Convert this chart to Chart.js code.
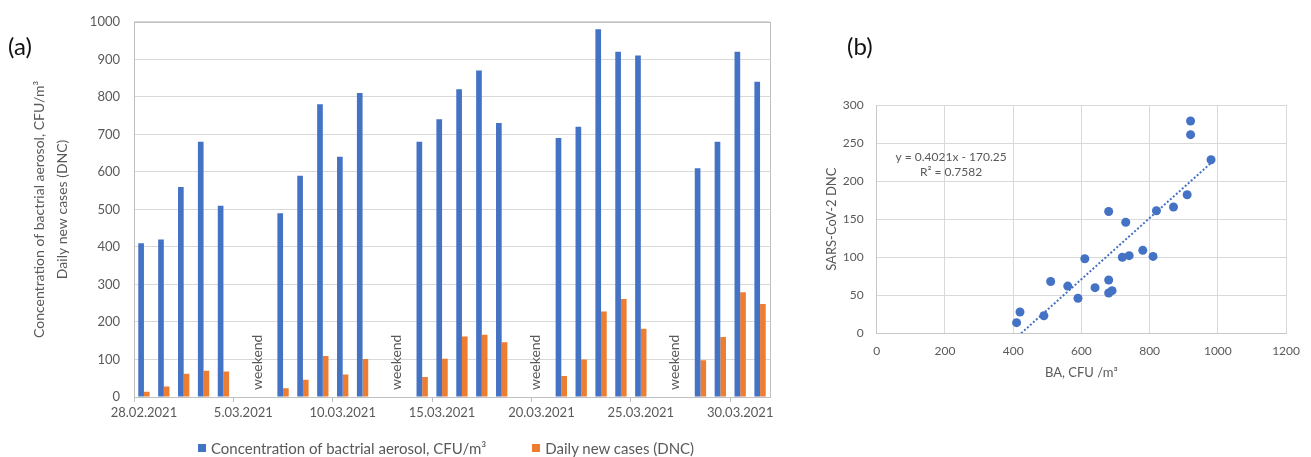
<!DOCTYPE html>
<html>
<head>
<meta charset="utf-8">
<title>Bacterial aerosol and daily new cases</title>
<script src="https://cdn.jsdelivr.net/npm/chart.js@4"></script>
<style>
  body { margin: 0; background: #fff; font-family: Lato, "Open Sans", sans-serif; color: #595959; }
  #page { position: relative; width: 1311px; height: 457px; overflow: hidden; }
  .panel { position: absolute; top: 0; }
  .tag { position: absolute; top: 31px; font-size: 24px; color: #111; }
  #legend { position: absolute; left: 198px; top: 438px; display: flex; gap: 46px; font-size: 15px; line-height: 20px; white-space: nowrap; }
  #legend span { display: flex; align-items: center; }
  #legend i { display: inline-block; width: 8px; height: 8px; margin-right: 5px; }
</style>
</head>
<body>
<div id="page">
  <canvas id="dailyChart" class="panel" style="left:0" width="800" height="457"></canvas>
  <canvas id="scatterChart" class="panel" style="left:800px" width="511" height="457"></canvas>
  <div class="tag" style="left:8px">(a)</div>
  <div class="tag" style="left:847px">(b)</div>
  <div id="legend"></div>
</div>
<script>
const dayLabels = [
  '28.02.2021', '1.03.2021', '2.03.2021', '3.03.2021', '4.03.2021', '5.03.2021', '6.03.2021', '7.03.2021',
  '8.03.2021', '9.03.2021', '10.03.2021', '11.03.2021', '12.03.2021', '13.03.2021', '14.03.2021', '15.03.2021',
  '16.03.2021', '17.03.2021', '18.03.2021', '19.03.2021', '20.03.2021', '21.03.2021', '22.03.2021', '23.03.2021',
  '24.03.2021', '25.03.2021', '26.03.2021', '27.03.2021', '28.03.2021', '29.03.2021', '30.03.2021', '31.03.2021'
];

// CFU/m3, null on the weekend days with no sampling
const aerosol = [
  410, 420, 560, 680, 510, null, null,
  490, 590, 780, 640, 810, null, null,
  680, 740, 820, 870, 730, null, null,
  690, 720, 980, 920, 910, null, null,
  610, 680, 920, 840
];
const newCases = [
  14, 28, 62, 70, 68, null, null,
  23, 46, 109, 60, 101, null, null,
  53, 102, 161, 166, 146, null, null,
  56, 100, 228, 261, 182, null, null,
  98, 160, 279, 248
];

// first empty day of each weekend gap
const weekendGaps = [5, 12, 19, 26];

// pairs used for the regression panel
const scatterBA = [410, 420, 560, 680, 510, 490, 590, 780, 640, 810, 680, 740, 820, 870, 730, 690, 720, 980, 920, 910, 610, 680, 920];
const scatterDNC = [14, 28, 62, 70, 68, 23, 46, 109, 60, 101, 53, 102, 161, 166, 146, 56, 100, 228, 261, 182, 98, 160, 279];

const trendSlope = 0.4021;
const trendIntercept = -170.25;
const trendR2 = 0.7582;

const BLUE = '#4472C4';
const ORANGE = '#ED7D31';
const TEXT = '#595959';
const GRID = '#D9D9D9';
const FONT = 'Lato';

Chart.defaults.font.family = FONT;
Chart.defaults.color = TEXT;

const plainNumber = v => String(v);

const plotFrame = {
  id: 'plotFrame',
  beforeDatasetsDraw(chart) {
    const { ctx, chartArea: a } = chart;
    ctx.save();
    ctx.strokeStyle = '#BFBFBF';
    ctx.lineWidth = 1;
    ctx.strokeRect(Math.round(a.left) + 0.5, Math.round(a.top) + 0.5, Math.round(a.width), Math.round(a.height));
    ctx.restore();
  }
};

const weekendText = {
  id: 'weekendText',
  afterDatasetsDraw(chart) {
    const { ctx, scales: { x, y } } = chart;
    ctx.save();
    ctx.font = '14px ' + FONT;
    ctx.fillStyle = TEXT;
    ctx.textBaseline = 'middle';
    weekendGaps.forEach(i => {
      ctx.save();
      ctx.translate(x.getPixelForValue(i + 0.5) + 4, y.bottom - 7);
      ctx.rotate(-Math.PI / 2);
      ctx.fillText('weekend', 0, 0);
      ctx.restore();
    });
    ctx.restore();
  }
};

const trendLabel = {
  id: 'trendLabel',
  afterDatasetsDraw(chart) {
    const { ctx, scales: { x, y } } = chart;
    const cx = x.getPixelForValue(218);
    ctx.save();
    ctx.font = '12px ' + FONT;
    ctx.fillStyle = TEXT;
    ctx.textAlign = 'center';
    ctx.textBaseline = 'middle';
    ctx.fillText(`y = ${trendSlope}x - ${Math.abs(trendIntercept)}`, cx, y.getPixelForValue(232));
    ctx.fillText(`R² = ${trendR2}`, cx, y.getPixelForValue(212));
    ctx.restore();
  }
};

const daily = new Chart(document.getElementById('dailyChart'), {
  type: 'bar',
  data: {
    labels: dayLabels,
    datasets: [
      { label: 'Concentration of bactrial aerosol, CFU/m³', data: aerosol, backgroundColor: BLUE },
      { label: 'Daily new cases (DNC)', data: newCases, backgroundColor: ORANGE }
    ]
  },
  options: {
    responsive: false,
    animation: false,
    categoryPercentage: 0.57,
    barPercentage: 1,
    layout: { padding: { top: 19, right: 30, left: 0, bottom: 0 } },
    plugins: { legend: { display: false }, tooltip: { enabled: false } },
    scales: {
      x: {
        offset: true,
        grid: {
          offset: true,
          drawOnChartArea: false,
          tickLength: 5,
          color: ctx => ctx.index % 5 === 0 ? '#BFBFBF' : 'rgba(0,0,0,0)'
        },
        border: { display: false },
        ticks: {
          autoSkip: false,
          maxRotation: 0,
          padding: 3,
          font: { size: 13 },
          callback: (v, i) => i % 5 === 0 ? dayLabels[i] : ''
        },
        afterFit: s => { s.height = 60; }
      },
      y: {
        min: 0,
        max: 1000,
        ticks: { stepSize: 100, padding: 14, font: { size: 13 }, callback: plainNumber },
        grid: { color: GRID, drawTicks: false },
        border: { display: false },
        title: {
          display: true,
          text: ['Concentration of bactrial aerosol, CFU/m³', 'Daily new cases (DNC)'],
          font: { size: 14, lineHeight: 1.64 },
          padding: { top: 28, bottom: 0 }
        },
        afterFit: s => { s.width = 134; }
      }
    }
  },
  plugins: [plotFrame, weekendText]
});

// html legend for the daily chart
const legendBox = document.getElementById('legend');
daily.data.datasets.forEach(ds => {
  const item = document.createElement('span');
  const swatch = document.createElement('i');
  swatch.style.background = ds.backgroundColor;
  item.appendChild(swatch);
  item.appendChild(document.createTextNode(ds.label));
  legendBox.appendChild(item);
});

const points = scatterBA.map((ba, i) => ({ x: ba, y: scatterDNC[i] }));
const trendStart = -trendIntercept / trendSlope;
const trendEnd = Math.max(...scatterBA);

new Chart(document.getElementById('scatterChart'), {
  type: 'scatter',
  data: {
    datasets: [
      {
        type: 'line',
        data: [
          { x: trendStart, y: trendSlope * trendStart + trendIntercept },
          { x: trendEnd, y: trendSlope * trendEnd + trendIntercept }
        ],
        borderColor: BLUE,
        borderWidth: 2,
        borderDash: [2, 2],
        pointRadius: 0,
        fill: false
      },
      {
        data: points,
        backgroundColor: BLUE,
        borderWidth: 0,
        pointRadius: 4.5
      }
    ]
  },
  options: {
    responsive: false,
    animation: false,
    layout: { padding: { top: 105, right: 14, left: 0, bottom: 0 } },
    plugins: { legend: { display: false }, tooltip: { enabled: false } },
    scales: {
      x: {
        type: 'linear',
        min: 0,
        max: 1200,
        ticks: { stepSize: 200, padding: 11, font: { size: 12 }, callback: plainNumber },
        grid: { color: GRID, drawTicks: false },
        border: { color: '#C8C8C8' },
        title: {
          display: true,
          text: 'BA, CFU /m³',
          font: { size: 13 },
          padding: { top: 0, bottom: 76 }
        },
        afterFit: s => { s.height = 123.7; }
      },
      y: {
        min: 0,
        max: 300,
        ticks: { stepSize: 50, padding: 13, font: { size: 12 }, callback: plainNumber },
        grid: { color: GRID, drawTicks: false },
        border: { color: '#C8C8C8' },
        title: {
          display: true,
          text: 'SARS-CoV-2 DNC',
          font: { size: 13 },
          padding: { top: 24, bottom: 0 }
        },
        afterFit: s => { s.width = 76.7; }
      }
    }
  },
  plugins: [trendLabel]
});
</script>
</body>
</html>
